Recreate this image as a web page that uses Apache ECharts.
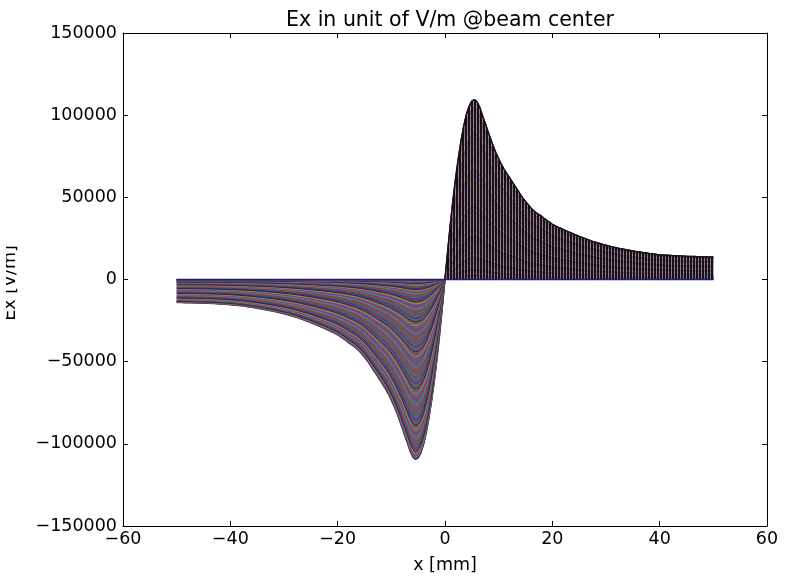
<!DOCTYPE html>
<html lang="en">
  <head>
    <meta charset="UTF-8" />
    <title>Ex in unit of V/m @beam center</title>
    <style>
      html, body { margin: 0; padding: 0; background-color: #fff; }
      #main { width: 792px; height: 579px; }
    </style>
  </head>
  <body>
    <div id="main"></div>
  </body>
  <script src="https://cdn.jsdelivr.net/npm/echarts@6/dist/echarts.min.js"></script>
  <script>
    // sampling grid: x from -50 to 50 mm, step 0.5
    var xStart = -50, xStep = 0.5;

    // envelope, x = -50 ... -0.5
    var exLeft = [
      -14000, -14000, -14050, -14100, -14100, -14150, -14200, -14250, -14300, -14350,
      -14400, -14450, -14500, -14550, -14650, -14750, -14850, -14950, -15050, -15150,
      -15300, -15450, -15600, -15800, -16000, -16200, -16450, -16700, -16950, -17200,
      -17450, -17750, -18050, -18350, -18650, -18950, -19300, -19650, -20050, -20450,
      -20850, -21250, -21700, -22200, -22700, -23200, -23800, -24400, -25000, -25600,
      -26200, -26900, -27600, -28300, -29000, -29700, -30400, -31200, -32000, -32800,
      -33700, -34700, -35800, -37000, -38400, -39500, -40600, -42000, -43500, -45300,
      -47300, -49400, -51800, -54300, -56800, -59300, -61800, -64400, -67000, -70000,
      -73500, -77000, -81000, -85500, -90000, -95000, -99500, -104500, -108000, -109500,
      -108500, -105500, -100500, -93500, -84500, -74000, -62000, -48500, -33500, -17000
    ];
    // envelope, x = 0 ... 50
    var exRight = [
      0, 17000, 33500, 48500, 62000, 74000, 84500, 93500, 100500, 105500,
      108500, 109500, 108000, 104500, 99500, 95000, 90000, 85500, 81000, 77000,
      73500, 70000, 67000, 64500, 62000, 59500, 57000, 54500, 52000, 49500,
      47500, 45500, 43500, 42000, 40500, 39500, 38500, 37000, 35800, 34700,
      33600, 32700, 31900, 31200, 30400, 29700, 29000, 28300, 27600, 26900,
      26200, 25600, 25000, 24400, 23800, 23200, 22700, 22200, 21700, 21200,
      20800, 20400, 20000, 19600, 19250, 18900, 18600, 18300, 18000, 17700,
      17400, 17100, 16850, 16600, 16350, 16100, 15850, 15650, 15450, 15250,
      15100, 14950, 14800, 14700, 14600, 14500, 14400, 14300, 14250, 14200,
      14100, 14050, 14000, 13950, 13900, 13850, 13800, 13800, 13750, 13700,
      13700
    ];
    // relative amplitude of each plotted curve (fraction of the envelope)
    var levels = [
      1.0000, 0.99875, 0.9950, 0.9888, 0.9802, 0.9692, 0.9560, 0.9406, 0.9231, 0.9037,
      0.8825, 0.8596, 0.8353, 0.8096, 0.7827, 0.7548, 0.7261, 0.6968, 0.6670, 0.6368,
      0.6065, 0.5762, 0.5461, 0.5162, 0.4868, 0.4578, 0.4296, 0.4020, 0.3753, 0.3495,
      0.3247, 0.3008, 0.2780, 0.2563, 0.2357, 0.2163, 0.1979, 0.1806, 0.1645, 0.1494,
      0.1353, 0.1223, 0.1103, 0.0991, 0.0889, 0.0796, 0.0710, 0.0632, 0.0561, 0.0497,
      0.0439, 0.0387, 0.0340, 0.0298, 0.0261, 0.0228, 0.0198, 0.0172, 0.0149, 0.0129,
      0.0111, 0.0082, 0.0060, 0.0043, 0.0031, 0.0022, 0.0015, 0.0007, 0.0003, 0.0001,
      0
    ];

    // matplotlib classic colour cycle
    var colors = ['#0000ff', '#008000', '#ff0000', '#00bfbf', '#bf00bf', '#bfbf00', '#000000'];

    var ex = exLeft.concat(exRight);
    var xs = ex.map(function (v, i) { return xStart + i * xStep; });
    var envelope = xs.map(function (x, i) { return [x, ex[i]]; });
    var posPart = envelope.filter(function (p) { return p[0] >= 0; });

    // striped fill for the dense vertical columns of the positive side
    var stripe = document.createElement('canvas');
    stripe.width = 3; stripe.height = 4;
    var sctx = stripe.getContext('2d');
    sctx.fillStyle = 'rgba(20,11,17,0.93)';
    sctx.fillRect(0, 0, 2, 4);
    sctx.fillStyle = 'rgba(225,212,220,0.35)';
    sctx.fillRect(2, 0, 1, 4);

    var fontFam = 'DejaVu Sans';
    function minus(v) { return String(v).replace('-', '\u2212'); }

    var series = [];
    // dense background of the overlapping curves
    series.push({
      type: 'line',
      data: envelope,
      showSymbol: false,
      symbol: 'none',
      silent: true,
      z: 1,
      lineStyle: { width: 1.5, color: '#4a3c48' },
      areaStyle: { color: '#6a5a6e', opacity: 1, origin: 0 }
    });
    levels.forEach(function (lv, k) {
      var last = k === levels.length - 1;
      series.push({
        type: 'line',
        data: xs.map(function (x, i) { return [x, ex[i] * lv]; }),
        showSymbol: false,
        symbol: 'none',
        silent: true,
        z: last ? 6 : 2,
        lineStyle: {
          width: last ? 1.5 : 1,
          opacity: last ? 1 : 0.55,
          color: last ? '#1c1c8a' : colors[k % colors.length]
        }
      });
    });
    // positive side: dark vertical columns over the curves
    series.push({
      type: 'line',
      data: posPart,
      showSymbol: false,
      symbol: 'none',
      silent: true,
      z: 4,
      lineStyle: { width: 1.5, color: '#1a1016' },
      areaStyle: { color: { image: stripe, repeat: 'repeat' }, opacity: 1, origin: 0 }
    });

    var axisLine = { show: true, onZero: false, lineStyle: { color: '#000', width: 1 } };
    var tick = { show: true, inside: true, length: 5, lineStyle: { color: '#000' } };
    var lbl = { color: '#000', fontFamily: fontFam, fontSize: 17.5, formatter: minus };

    var myChart = echarts.init(document.getElementById('main'));
    var option = {
      animation: false,
      backgroundColor: '#fff',
      title: {
        text: 'Ex in unit of V/m @beam center',
        left: 445,
        textAlign: 'center',
        top: 5,
        textStyle: { fontFamily: fontFam, fontSize: 20.5, fontWeight: 'normal', color: '#000' }
      },
      graphic: [{
        type: 'text',
        x: 19,
        y: 283,
        rotation: Math.PI / 2,
        z: 100,
        style: {
          text: 'Ex [V/m]',
          fill: '#000',
          font: '17.5px "DejaVu Sans"',
          textAlign: 'center',
          textVerticalAlign: 'bottom'
        }
      }, {
        // the reference image is cropped through the y label
        type: 'rect',
        z: 101,
        shape: { x: 0, y: 230, width: 6, height: 110 },
        style: { fill: '#fff' }
      }],
      grid: { left: 123, right: 25, top: 33, bottom: 46, containLabel: false },
      xAxis: [{
        type: 'value', min: -60, max: 60, interval: 20, position: 'bottom',
        name: 'x [mm]', nameLocation: 'middle', nameGap: 30,
        nameTextStyle: { fontFamily: fontFam, fontSize: 17.5, color: '#000' },
        axisLine: axisLine, axisTick: tick,
        axisLabel: Object.assign({ margin: 4 }, lbl),
        splitLine: { show: false }
      }, {
        type: 'value', min: -60, max: 60, interval: 20, position: 'top',
        axisLine: axisLine, axisTick: tick, axisLabel: { show: false },
        splitLine: { show: false }
      }],
      yAxis: [{
        type: 'value', min: -150000, max: 150000, interval: 50000, position: 'left',
        axisLine: axisLine, axisTick: tick,
        axisLabel: Object.assign({ margin: 6 }, lbl),
        splitLine: { show: false }
      }, {
        type: 'value', min: -150000, max: 150000, interval: 50000, position: 'right',
        axisLine: axisLine, axisTick: tick, axisLabel: { show: false },
        splitLine: { show: false }
      }],
      series: series
    };
    myChart.setOption(option);
  </script>
</html>
